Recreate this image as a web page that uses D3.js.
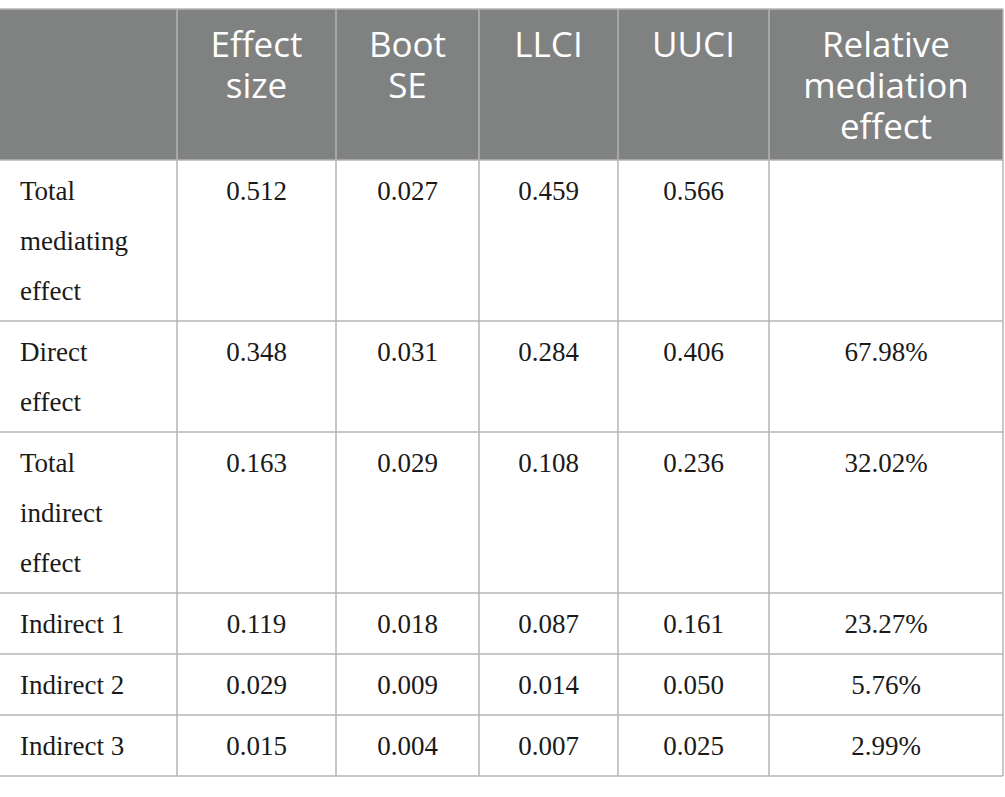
<!DOCTYPE html>
<html>
<head>
<meta charset="utf-8">
<script src="https://cdn.jsdelivr.net/npm/d3@7"></script>
<style>
  body { margin: 0; background: #fff; }
  .head { fill: #fff; font-family: "Open Sans", sans-serif; font-size: 35px; }
  .cell { fill: #1a1a1a; font-family: "Liberation Serif", serif; font-size: 27px; }
</style>
</head>
<body>
<div class="table-div"></div>
<script>
// table content
var headers = ["", "Effect\nsize", "Boot\nSE", "LLCI", "UUCI", "Relative\nmediation\neffect"];
var rowLabels = ["Total\nmediating\neffect", "Direct\neffect", "Total\nindirect\neffect",
                 "Indirect 1", "Indirect 2", "Indirect 3"];
var effectSize = ["0.512", "0.348", "0.163", "0.119", "0.029", "0.015"];
var bootSE     = ["0.027", "0.031", "0.029", "0.018", "0.009", "0.004"];
var llci       = ["0.459", "0.284", "0.108", "0.087", "0.014", "0.007"];
var uuci       = ["0.566", "0.406", "0.236", "0.161", "0.050", "0.025"];
var relative   = ["", "67.98%", "32.02%", "23.27%", "5.76%", "2.99%"];

function draw_table() {
  var w = 1005,
      h = 797,
      col_edges = [0, 177, 336, 479, 618, 769, 1003],
      top = 9,
      head_h = 151,
      head_line = 41,
      head_first = 48,
      body_line = 50,
      body_pad = 11,
      body_first = 40,
      label_left = 20,
      line_col = "#b5b5b5";

  var svg = d3.select('.table-div')
    .append('svg')
    .attr('width', w)
    .attr('height', h)
    .append('g');

  var columns = [rowLabels, effectSize, bootSE, llci, uuci, relative];
  var rows = rowLabels.map(function(d, i) {
    return columns.map(function(c) { return c[i]; });
  });

  // row heights follow how many lines the row label needs
  var heights = rowLabels.map(function(d) { return body_pad + body_line*d.split("\n").length; });
  var row_tops = [];
  var y = top + head_h;
  heights.forEach(function(hh) { row_tops.push(y); y += hh; });
  var bottom = y;

  svg.append('rect')
    .attr('x', col_edges[0])
    .attr('y', top)
    .attr('width', col_edges[6] - col_edges[0])
    .attr('height', head_h)
    .style('fill', '#808181');

  // header text
  headers.forEach(function(t, j) {
    var cx = (col_edges[j] + col_edges[j+1])/2;
    svg.append('text')
      .attr('class', 'head')
      .attr('text-anchor', 'middle')
      .selectAll('tspan')
      .data(t.split("\n"))
      .enter().append('tspan')
      .attr('x', cx)
      .attr('y', function(d, k) { return top + head_first + k*head_line; })
      .text(function(d) { return d; });
  });

  // body text
  rows.forEach(function(r, i) {
    r.forEach(function(t, j) {
      if (!t) return;
      var cx = j == 0 ? label_left : (col_edges[j] + col_edges[j+1])/2;
      svg.append('text')
        .attr('class', 'cell')
        .attr('text-anchor', j == 0 ? 'start' : 'middle')
        .selectAll('tspan')
        .data(t.split("\n"))
        .enter().append('tspan')
        .attr('x', cx)
        .attr('y', function(d, k) { return row_tops[i] + body_first + k*body_line; })
        .text(function(d) { return d; });
    });
  });

  // grid lines
  svg.append('line')
    .attr('x1', col_edges[0]).attr('x2', col_edges[6])
    .attr('y1', top).attr('y2', top)
    .style('stroke', line_col).style('stroke-width', 1.5);

  svg.selectAll('.hline')
    .data(row_tops.concat([bottom]))
    .enter().append('line')
    .attr('class', 'hline')
    .attr('x1', col_edges[0]).attr('x2', col_edges[6])
    .attr('y1', function(d) { return d; })
    .attr('y2', function(d) { return d; })
    .style('stroke', line_col).style('stroke-width', 1.5);

  svg.selectAll('.vline')
    .data(col_edges.slice(1))
    .enter().append('line')
    .attr('class', 'vline')
    .attr('x1', function(d) { return d; })
    .attr('x2', function(d) { return d; })
    .attr('y1', top).attr('y2', bottom)
    .style('stroke', line_col).style('stroke-width', 1.5);
}

draw_table();
</script>
</body>
</html>
